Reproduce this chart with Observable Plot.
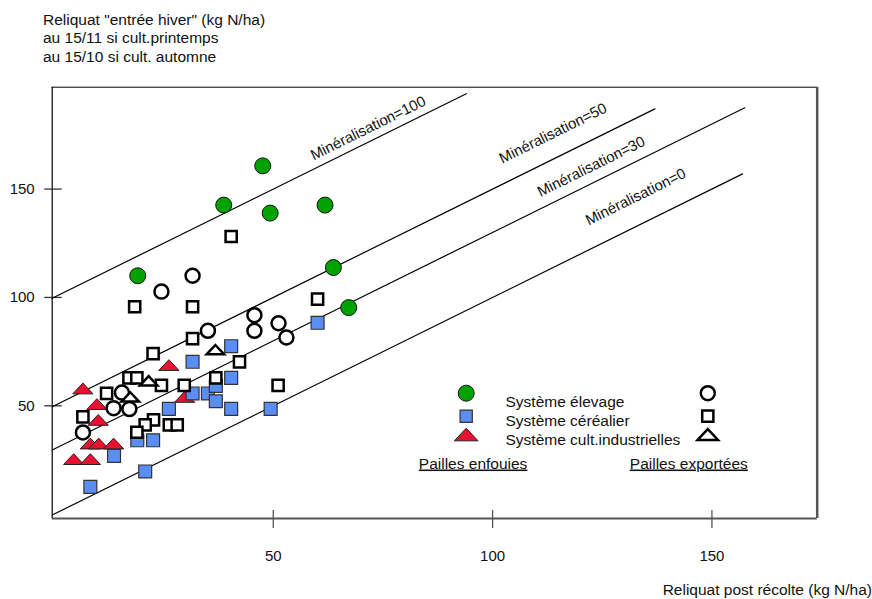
<!DOCTYPE html>
<html>
<head>
<meta charset="utf-8">
<script src="https://cdn.jsdelivr.net/npm/d3@7"></script>
<script src="https://cdn.jsdelivr.net/npm/@observablehq/plot@0.6"></script>
<style>
  body { margin: 0; background: white; font-family: "Liberation Sans", Arial, sans-serif; }
  #wrap { position: relative; width: 872px; height: 599px; overflow: hidden; }
  .t { position: absolute; font-size: 15.5px; color: #111; white-space: nowrap; line-height: 18.3px; }
</style>
</head>
<body>
<div id="wrap"></div>
<script>
// ---------- DATA ----------
// Système élevage, pailles enfouies (filled green circles)
const elevEnfX = [47.6, 38.7, 49.3, 61.8, 19.1, 63.7, 67.2];
const elevEnfY = [160.7, 142.6, 138.9, 142.6, 110.0, 113.8, 95.3];
// Système élevage, pailles exportées (open circles)
const elevExpX = [31.6, 24.5, 45.7, 45.7, 51.2, 53.0, 35.1, 15.5, 13.6, 17.2, 6.6];
const elevExpY = [110.0, 102.7, 91.8, 84.6, 88.1, 81.5, 84.6, 56.1, 48.9, 48.5, 37.7];
// Système céréalier, pailles enfouies (filled blue squares)
const cerEnfX = [60.1, 40.4, 31.6, 40.4, 31.6, 35.1, 36.9, 36.9, 40.4, 49.4, 26.2, 19.0, 22.6, 13.7, 20.8, 8.3];
const cerEnfY = [88.3, 77.5, 70.3, 62.9, 55.7, 55.7, 52.1, 59.2, 48.6, 48.6, 48.6, 34.1, 34.1, 26.9, 19.7, 12.6];
// Système céréalier, pailles exportées (open squares)
const cerExpX = [40.4, 18.4, 31.6, 60.1, 31.6, 22.6, 42.3, 17.1, 18.9, 24.5, 12.0, 29.7, 36.9, 51.1, 6.6, 22.7, 20.8, 18.9, 26.3, 28.1];
const cerExpY = [128.1, 95.7, 95.7, 99.2, 81.0, 74.1, 70.3, 62.9, 62.9, 59.4, 55.7, 59.4, 62.9, 59.4, 44.9, 43.5, 41.2, 37.8, 41.2, 41.2];
// Système cult. industrielles, pailles enfouies (filled red triangles)
const indEnfX = [26.2, 6.6, 9.8, 10.1, 8.3, 10.2, 13.6, 4.5, 8.3, 29.8];
const indEnfY = [68.8, 58.0, 50.8, 43.5, 32.6, 32.6, 32.6, 25.4, 25.4, 54.1];
// Système cult. industrielles, pailles exportées (open triangles)
const indExpX = [36.8, 21.6, 17.4];
const indExpY = [75.9, 61.5, 54.1];

// Minéralisation reference lines: y = x + m
const minerals = [100, 50, 30, 0];
const lineEndX = [94, 137, 157.5, 157];
const labelX = [59.2, 102.2, 110.9, 121.9];
const labelGap = [4.0, 9.5, 5.4, 11.3];

const xTicks = [50, 100, 150];
const yTicks = [50, 100, 150];

const legendRows = ["Système élevage", "Système céréalier", "Système cult.industrielles"];
const legendFoot = ["Pailles enfouies", "Pailles exportées"];
const titleLines = ['Reliquat "entrée hiver" (kg N/ha)', "au 15/11 si cult.printemps", "au 15/10 si cult. automne"];
const xLabel = "Reliquat post récolte (kg N/ha)";

// ---------- LAYOUT ----------
const W = 872, H = 599;
const mL = 51.7, mT = 86.7, mR = 55.3, mB = 81;
const frameW = W - mL - mR, frameH = H - mT - mB;
const xDom = [-0.4, 174], yDom = [-2, 197];
const GREEN = "#00a200", BLUE = "#5b8ef4", RED = "#ea1030";
const angle = -Math.atan((frameH / (yDom[1] - yDom[0])) / (frameW / (xDom[1] - xDom[0]))) * 180 / Math.PI;

const wideTriangle = {
  draw(ctx, size) {
    const r = Math.sqrt(size / Math.PI);
    const hw = r * 1.35, hh = r * 0.72;
    ctx.moveTo(0, -hh); ctx.lineTo(hw, hh); ctx.lineTo(-hw, hh); ctx.closePath();
  }
};

const pts = (xs, ys) => xs.map((x, i) => ({x, y: ys[i]}));

const lineData = minerals.flatMap((m, i) => [
  {m, x: xDom[0], y: xDom[0] + m},
  {m, x: lineEndX[i], y: lineEndX[i] + m}
]);

const legX = 414, legTX = 453.3, legX2 = 655.6;
const legSymY = [306, 329, 347.3], legTextY = [308.3, 327.3, 346.3];
const footX = [366.6, 577.6], footY = 370.3;

const chart = Plot.plot({
  width: W, height: H,
  marginLeft: mL, marginTop: mT, marginRight: mR, marginBottom: mB,
  x: {domain: xDom, axis: null},
  y: {domain: yDom, axis: null},
  style: {fontFamily: '"Liberation Sans", Arial, sans-serif', fontSize: "15px", background: "white", color: "#111", overflow: "visible"},
  marks: [
    // frame
    Plot.ruleY([yDom[1]], {stroke: "black", strokeWidth: 1}),
    Plot.ruleX([xDom[0]], {stroke: "black", strokeWidth: 1.2}),
    Plot.ruleX([xDom[1]], {stroke: "#555", strokeWidth: 2.5}),
    Plot.ruleY([yDom[0]], {stroke: "#555", strokeWidth: 2}),
    // ticks crossing the axes
    Plot.tickX(xTicks, {x: d => d, insetTop: frameH - 8, insetBottom: -10, stroke: "#555", strokeWidth: 1.3}),
    Plot.tickY(yTicks, {y: d => d, insetLeft: -7.4, insetRight: frameW - 10, stroke: "#333", strokeWidth: 1.3}),
    Plot.text(xTicks, {x: d => d, text: d => String(d), frameAnchor: "bottom", dy: 42, fill: "#111"}),
    Plot.text(yTicks, {y: d => d, text: d => String(d), frameAnchor: "left", dx: -17.5, textAnchor: "end", fill: "#111"}),
    // mineralisation lines
    Plot.line(lineData, {x: "x", y: "y", z: "m", stroke: "black", strokeWidth: 1.2}),
    Plot.text(minerals, {
      x: (m, i) => labelX[i], y: (m, i) => labelX[i] + m + labelGap[i],
      text: m => `Minéralisation=${m}`, rotate: angle, textAnchor: "start", lineAnchor: "bottom", fill: "#111"
    }),
    // data
    Plot.dot(pts(indEnfX, indEnfY), {x: "x", y: "y", symbol: wideTriangle, r: 7.5, fill: RED, stroke: "#222", strokeWidth: 1}),
    Plot.dot(pts(cerEnfX, cerEnfY), {x: "x", y: "y", symbol: "square", r: 7.3, fill: BLUE, stroke: "#333", strokeWidth: 1.2}),
    Plot.dot(pts(elevEnfX, elevEnfY), {x: "x", y: "y", symbol: "circle", r: 8, fill: GREEN, stroke: "#111", strokeWidth: 1}),
    Plot.dot(pts(elevExpX, elevExpY), {x: "x", y: "y", symbol: "circle", r: 7, fill: "white", stroke: "black", strokeWidth: 2.5}),
    Plot.dot(pts(cerExpX, cerExpY), {x: "x", y: "y", symbol: "square", r: 6.3, fill: "white", stroke: "black", strokeWidth: 2.5}),
    Plot.dot(pts(indExpX, indExpY), {x: "x", y: "y", symbol: wideTriangle, r: 6.5, fill: "white", stroke: "black", strokeWidth: 2.5}),
    // legend
    Plot.dot([0], {frameAnchor: "top-left", dx: legX, dy: legSymY[0], symbol: "circle", r: 8, fill: GREEN, stroke: "#111", strokeWidth: 1}),
    Plot.dot([0], {frameAnchor: "top-left", dx: legX, dy: legSymY[1], symbol: "square", r: 6.9, fill: BLUE, stroke: "#333", strokeWidth: 1.2}),
    Plot.dot([0], {frameAnchor: "top-left", dx: legX, dy: legSymY[2], symbol: wideTriangle, r: 8.8, fill: RED, stroke: "#222", strokeWidth: 1}),
    Plot.dot([0], {frameAnchor: "top-left", dx: legX2, dy: legSymY[0], symbol: "circle", r: 7, fill: "white", stroke: "black", strokeWidth: 2.5}),
    Plot.dot([0], {frameAnchor: "top-left", dx: legX2, dy: legSymY[1], symbol: "square", r: 6.3, fill: "white", stroke: "black", strokeWidth: 2.5}),
    Plot.dot([0], {frameAnchor: "top-left", dx: legX2, dy: legSymY[2], symbol: wideTriangle, r: 7.6, fill: "white", stroke: "black", strokeWidth: 2.5}),
    ...legendRows.map((t, i) => Plot.text([t], {text: d => d, frameAnchor: "top-left", dx: legTX, dy: legTextY[i], textAnchor: "start", fontSize: 15.5, fill: "#111"})),
    ...legendFoot.map((t, i) => Plot.text([t], {text: d => d, frameAnchor: "top-left", dx: footX[i], dy: footY, textAnchor: "start", fontSize: 15.5, fill: "#111"}))
  ]
});

chart.querySelectorAll("text").forEach(t => {
  if (legendFoot.includes(t.textContent)) t.style.textDecoration = "underline";
});

const wrap = document.getElementById("wrap");
wrap.appendChild(chart);
chart.style.position = "absolute";
chart.style.left = "0px";
chart.style.top = "0px";

const title = document.createElement("div");
title.className = "t";
title.style.left = "43px";
title.style.top = "11px";
title.innerHTML = titleLines.map(s => s.replace(/&/g, "&amp;").replace(/</g, "&lt;")).join("<br>");
wrap.appendChild(title);

const xl = document.createElement("div");
xl.className = "t";
xl.style.right = "0px";
xl.style.top = "581px";
xl.textContent = xLabel;
wrap.appendChild(xl);
</script>
</body>
</html>
